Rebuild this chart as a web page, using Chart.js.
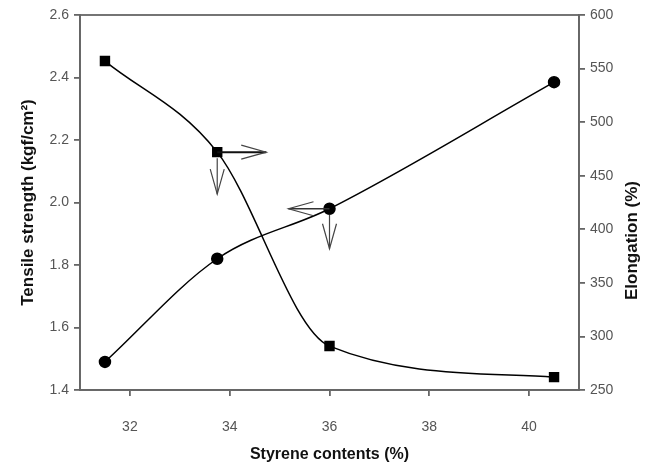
<!DOCTYPE html>
<html>
<head>
<meta charset="utf-8">
<script src="https://cdn.jsdelivr.net/npm/chart.js@4.4.1/dist/chart.umd.min.js"></script>
<style>
html,body{margin:0;padding:0;background:#fff;}
#wrap{width:654px;height:469px;}
</style>
</head>
<body>
<div id="wrap"><canvas id="c" width="654" height="469"></canvas></div>
<script>
// Data
const styrene = [31.5, 33.75, 36, 40.5];
const tensileStrength = [1.49, 1.82, 1.98, 2.385];
const elongation = [557, 472, 291, 262];
const xTicks = [32, 34, 36, 38, 40];
const leftTicks = [1.4, 1.6, 1.8, 2.0, 2.2, 2.4, 2.6];
const rightTicks = [250, 300, 350, 400, 450, 500, 550, 600];
const xTitle = 'Styrene contents (%)';
const leftTitle = 'Tensile strength (kgf/cm²)';
const rightTitle = 'Elongation (%)';

// arrows: dataset index, point index, direction, length (px)
const arrows = [
  {ds: 1, i: 1, dir: 'right', len: 49, gap: 0, w: 2, c: '#111'},
  {ds: 1, i: 1, dir: 'down', len: 36, gap: 6, w: 1.2, c: '#444'},
  {ds: 0, i: 2, dir: 'left', len: 41, gap: 0, w: 1.6, c: '#333'},
  {ds: 0, i: 2, dir: 'down', len: 34, gap: 6, w: 1.2, c: '#444'}
];

const fontFam = '"Liberation Sans", Arial, sans-serif';

const frame = {
  id: 'frame',
  afterDatasetsDraw(chart) {
    const {ctx, chartArea: a} = chart;
    ctx.save();
    ctx.strokeStyle = '#666';
    ctx.lineWidth = 1.8;
    ctx.strokeRect(a.left, a.top, a.right - a.left, a.bottom - a.top);
    // arrows
    arrows.forEach(ar => {
      const p = chart.getDatasetMeta(ar.ds).data[ar.i];
      let dx = 0, dy = 0;
      if (ar.dir === 'right') dx = 1;
      if (ar.dir === 'left') dx = -1;
      if (ar.dir === 'down') dy = 1;
      const sx = p.x + dx * ar.gap, sy = p.y + dy * ar.gap;
      const tx = p.x + dx * (ar.gap + ar.len), ty = p.y + dy * (ar.gap + ar.len);
      ctx.strokeStyle = ar.c;
      ctx.lineWidth = ar.w;
      ctx.beginPath();
      ctx.moveTo(sx, sy);
      ctx.lineTo(tx, ty);
      ctx.stroke();
      const hl = 25, hw = 7;
      const bx = tx - dx * hl, by = ty - dy * hl;
      ctx.strokeStyle = '#444';
      ctx.lineWidth = 1.2;
      ctx.beginPath();
      ctx.moveTo(bx + dy * hw, by + dx * hw);
      ctx.lineTo(tx, ty);
      ctx.lineTo(bx - dy * hw, by - dx * hw);
      ctx.stroke();
    });
    // right axis title, reading bottom to top
    const ys = chart.scales.y2;
    ctx.fillStyle = '#111';
    ctx.font = 'bold 17px ' + fontFam;
    ctx.textAlign = 'center';
    ctx.textBaseline = 'middle';
    ctx.translate(ys.right - 22, (ys.top + ys.bottom) / 2 + 38);
    ctx.rotate(-Math.PI / 2);
    ctx.fillText(rightTitle, 0, 0);
    ctx.restore();
  }
};

const tickFont = {family: fontFam, size: 14};

new Chart(document.getElementById('c'), {
  type: 'line',
  data: {
    datasets: [
      {
        label: 'Tensile strength',
        data: styrene.map((x, k) => ({x, y: tensileStrength[k]})),
        yAxisID: 'y',
        borderColor: '#000',
        backgroundColor: '#000',
        borderWidth: 1.5,
        pointStyle: 'circle',
        pointRadius: 5.5,
        pointHoverRadius: 5.5,
        cubicInterpolationMode: 'monotone',
        fill: false
      },
      {
        label: 'Elongation',
        data: styrene.map((x, k) => ({x, y: elongation[k]})),
        yAxisID: 'y2',
        borderColor: '#000',
        backgroundColor: '#000',
        borderWidth: 1.5,
        pointStyle: 'rect',
        pointRadius: 6.3,
        pointHoverRadius: 6.3,
        cubicInterpolationMode: 'monotone',
        fill: false
      }
    ]
  },
  options: {
    responsive: false,
    animation: false,
    events: [],
    layout: {padding: {top: 15, left: 0, right: 0, bottom: 0}},
    plugins: {legend: {display: false}, tooltip: {enabled: false}},
    scales: {
      x: {
        type: 'linear',
        min: 31, max: 41,
        afterBuildTicks: s => { s.ticks = xTicks.map(v => ({value: v})); },
        afterFit: s => { s.height = 79; },
        border: {display: true, color: '#666', width: 1.8},
        grid: {display: true, drawOnChartArea: false, drawTicks: true, tickLength: 6, color: '#666', lineWidth: 1.8},
        ticks: {font: tickFont, color: '#555', padding: 23, callback: v => String(v)},
        title: {display: true, text: xTitle, font: {family: fontFam, size: 16, weight: 'bold'}, color: '#111', padding: {top: 0, bottom: 5}}
      },
      y: {
        type: 'linear',
        position: 'left',
        min: 1.4, max: 2.6,
        afterBuildTicks: s => { s.ticks = leftTicks.map(v => ({value: v})); },
        afterFit: s => { s.width = 80; },
        border: {display: true, color: '#666', width: 1.8},
        grid: {display: true, drawOnChartArea: false, drawTicks: true, tickLength: 6, color: '#666', lineWidth: 1.8},
        ticks: {font: tickFont, color: '#555', padding: 5, callback: v => Number(v).toFixed(1)},
        title: {display: true, text: leftTitle, font: {family: fontFam, size: 17, weight: 'bold'}, color: '#111', padding: {top: 18, bottom: 0}}
      },
      y2: {
        type: 'linear',
        position: 'right',
        min: 250, max: 600,
        afterBuildTicks: s => { s.ticks = rightTicks.map(v => ({value: v})); },
        afterFit: s => { s.width = 75; },
        border: {display: true, color: '#666', width: 1.8},
        grid: {display: true, drawOnChartArea: false, drawTicks: true, tickLength: 6, color: '#666', lineWidth: 1.8},
        ticks: {font: tickFont, color: '#555', padding: 5, callback: v => String(v)}
      }
    }
  },
  plugins: [frame]
});
</script>
</body>
</html>
